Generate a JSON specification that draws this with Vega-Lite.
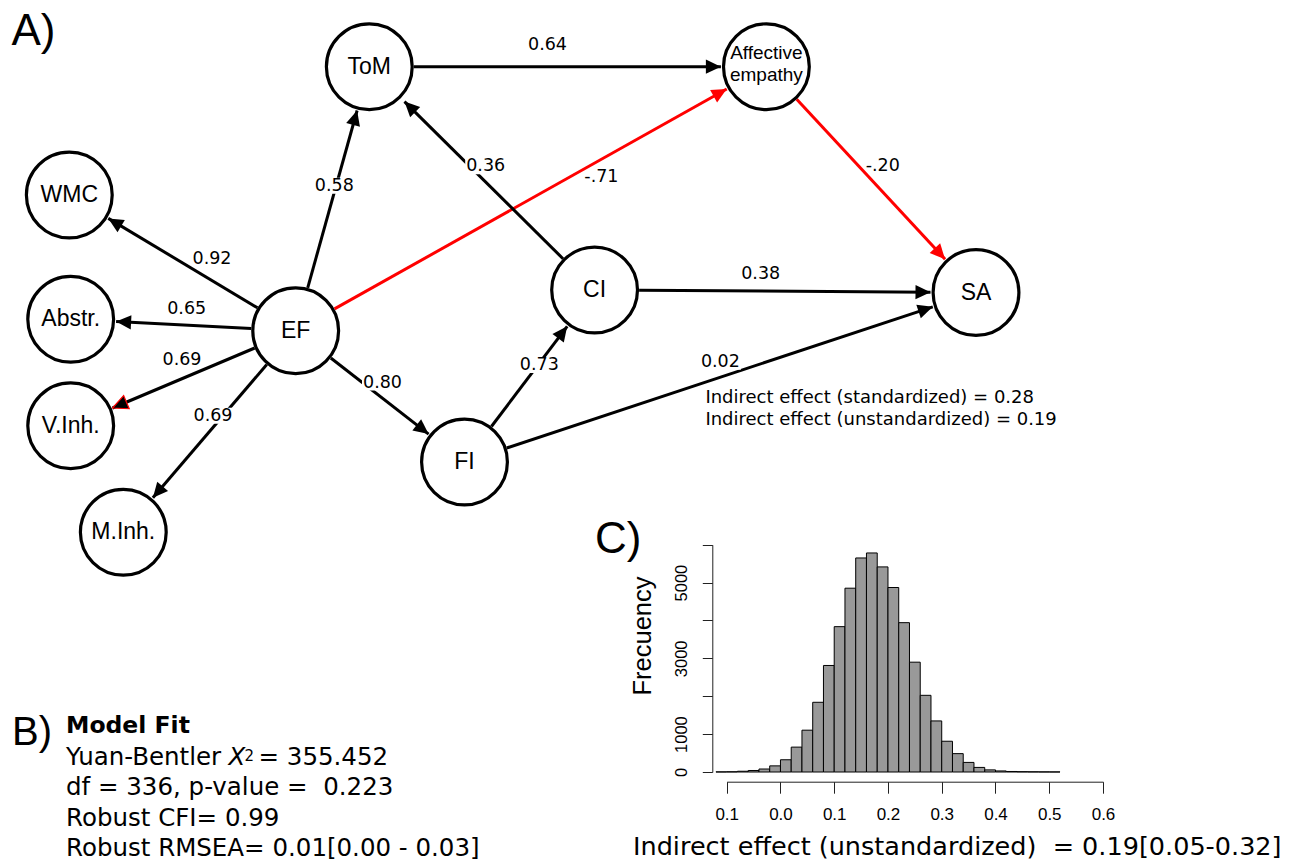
{
  "$schema": "https://vega.github.io/schema/vega-lite/v6.json",
  "width": 1309,
  "height": 862,
  "autosize": "none",
  "padding": 0,
  "background": "white",
  "config": {"view": {"stroke": null}},
  "datasets": {
    "nodes": [
      {"id": "ToM", "label": "ToM", "x": 369.3, "y": 66.7},
      {"id": "Affective empathy", "label": "Affective\nempathy", "x": 766.4, "y": 66.7},
      {"id": "WMC", "label": "WMC", "x": 69.3, "y": 195},
      {"id": "EF", "label": "EF", "x": 295.7, "y": 330.7},
      {"id": "Abstr.", "label": "Abstr.", "x": 70.7, "y": 319.3},
      {"id": "V.Inh.", "label": "V.Inh.", "x": 70.7, "y": 425.7},
      {"id": "M.Inh.", "label": "M.Inh.", "x": 123.3, "y": 532.3},
      {"id": "CI", "label": "CI", "x": 594.6, "y": 290},
      {"id": "SA", "label": "SA", "x": 976, "y": 292.5},
      {"id": "FI", "label": "FI", "x": 464.5, "y": 462}
    ],
    "edges": [
      {"from": "EF", "to": "ToM", "sign": "pos", "x1": 307.7, "y1": 287.8, "x2": 357.1, "y2": 110.5, "label": "0.58", "lx": 334.3, "ly": 185.8},
      {"from": "EF", "to": "WMC", "sign": "pos", "x1": 257.5, "y1": 307.8, "x2": 108.3, "y2": 218.4, "label": "0.92", "lx": 212, "ly": 259},
      {"from": "EF", "to": "Abstr.", "sign": "pos", "x1": 251.3, "y1": 328.5, "x2": 116.1, "y2": 321.6, "label": "0.65", "lx": 186.7, "ly": 308.8},
      {"from": "EF", "to": "V.Inh.", "sign": "pos", "x1": 254.7, "y1": 348.0, "x2": 112.6, "y2": 408.0, "label": "0.69", "lx": 182, "ly": 359.5},
      {"from": "EF", "to": "M.Inh.", "sign": "pos", "x1": 266.8, "y1": 364.5, "x2": 152.9, "y2": 497.7, "label": "0.69", "lx": 213, "ly": 415.8},
      {"from": "EF", "to": "FI", "sign": "pos", "x1": 330.8, "y1": 358.0, "x2": 428.6, "y2": 434.1, "label": "0.80", "lx": 382.5, "ly": 382.5},
      {"from": "EF", "to": "Affective empathy", "sign": "neg", "x1": 334.5, "y1": 308.9, "x2": 726.7, "y2": 89.0, "label": "-.71", "lx": 601.4, "ly": 176.7},
      {"from": "ToM", "to": "Affective empathy", "sign": "pos", "x1": 413.8, "y1": 66.7, "x2": 720.9, "y2": 66.7, "label": "0.64", "lx": 547.5, "ly": 45},
      {"from": "CI", "to": "ToM", "sign": "pos", "x1": 563.0, "y1": 258.7, "x2": 404.5, "y2": 101.6, "label": "0.36", "lx": 485.7, "ly": 166.3},
      {"from": "Affective empathy", "to": "SA", "sign": "neg", "x1": 796.7, "y1": 99.3, "x2": 945.1, "y2": 259.2, "label": "-.20", "lx": 882.8, "ly": 165.8},
      {"from": "CI", "to": "SA", "sign": "pos", "x1": 639.1, "y1": 290.3, "x2": 930.5, "y2": 292.2, "label": "0.38", "lx": 760.7, "ly": 273.7},
      {"from": "FI", "to": "CI", "sign": "pos", "x1": 491.4, "y1": 426.5, "x2": 567.2, "y2": 326.3, "label": "0.73", "lx": 539.3, "ly": 365},
      {"from": "FI", "to": "SA", "sign": "pos", "x1": 506.7, "y1": 448.0, "x2": 932.8, "y2": 306.8, "label": "0.02", "lx": 720.4, "ly": 361.7}
    ],
    "texts": [
      {"role": "panel", "text": "A)", "x": 11.5, "y": 45},
      {"role": "panel", "text": "B)", "x": 12, "y": 745},
      {"role": "panel", "text": "C)", "x": 595, "y": 553},
      {"role": "note", "text": "Indirect effect (standardized) = 0.28", "x": 705.4, "y": 403.3},
      {"role": "note", "text": "Indirect effect (unstandardized) = 0.19", "x": 705.4, "y": 425.3},
      {"role": "fitbold", "text": "Model Fit", "x": 66, "y": 733},
      {"role": "fit", "text": "Yuan-Bentler", "x": 66, "y": 765},
      {"role": "fitital", "text": "X", "x": 228.6, "y": 765},
      {"role": "fitsup", "text": "2", "x": 244.5, "y": 761},
      {"role": "fit", "text": "= 355.452", "x": 258.5, "y": 765},
      {"role": "fit", "text": "df = 336, p-value = \u00a00.223", "x": 66, "y": 795},
      {"role": "fit", "text": "Robust CFI= 0.99", "x": 66, "y": 826},
      {"role": "fit", "text": "Robust RMSEA= 0.01[0.00 - 0.03]", "x": 66, "y": 856},
      {"role": "histtitle", "text": "Indirect effect (unstandardized) \u00a0= 0.19[0.05-0.32]", "x": 633, "y": 855},
      {"role": "ylab", "text": "Frecuency", "x": 643.3, "y": 636}
    ],
    "hist": [
      {"b0": -0.12, "b1": -0.10, "count": 3},
      {"b0": -0.10, "b1": -0.08, "count": 6},
      {"b0": -0.08, "b1": -0.06, "count": 20},
      {"b0": -0.06, "b1": -0.04, "count": 40},
      {"b0": -0.04, "b1": -0.02, "count": 79},
      {"b0": -0.02, "b1": 0.00, "count": 162},
      {"b0": 0.00, "b1": 0.02, "count": 323},
      {"b0": 0.02, "b1": 0.04, "count": 657},
      {"b0": 0.04, "b1": 0.06, "count": 1104},
      {"b0": 0.06, "b1": 0.08, "count": 1840},
      {"b0": 0.08, "b1": 0.10, "count": 2812},
      {"b0": 0.10, "b1": 0.12, "count": 3837},
      {"b0": 0.12, "b1": 0.14, "count": 4852},
      {"b0": 0.14, "b1": 0.16, "count": 5650},
      {"b0": 0.16, "b1": 0.18, "count": 5782},
      {"b0": 0.18, "b1": 0.20, "count": 5414},
      {"b0": 0.20, "b1": 0.22, "count": 4870},
      {"b0": 0.22, "b1": 0.24, "count": 3942},
      {"b0": 0.24, "b1": 0.26, "count": 2899},
      {"b0": 0.26, "b1": 0.28, "count": 2024},
      {"b0": 0.28, "b1": 0.30, "count": 1348},
      {"b0": 0.30, "b1": 0.32, "count": 812},
      {"b0": 0.32, "b1": 0.34, "count": 485},
      {"b0": 0.34, "b1": 0.36, "count": 253},
      {"b0": 0.36, "b1": 0.38, "count": 121},
      {"b0": 0.38, "b1": 0.40, "count": 56},
      {"b0": 0.40, "b1": 0.42, "count": 28},
      {"b0": 0.42, "b1": 0.44, "count": 14},
      {"b0": 0.44, "b1": 0.46, "count": 8},
      {"b0": 0.46, "b1": 0.48, "count": 5},
      {"b0": 0.48, "b1": 0.50, "count": 3},
      {"b0": 0.50, "b1": 0.52, "count": 2}
    ]
  },
  "layer": [
    {
      "layer": [
        {
          "data": {"name": "edges"},
          "mark": {"type": "rule", "strokeWidth": 3, "strokeCap": "butt"},
          "encoding": {
            "x": {"field": "x1", "type": "quantitative", "scale": {"domain": [0, 1309], "range": [0, 1309], "nice": false, "zero": false}, "axis": null},
            "y": {"field": "y1", "type": "quantitative", "scale": {"domain": [0, 862], "range": [0, 862], "nice": false, "zero": false}, "axis": null},
            "x2": {"field": "x2"},
            "y2": {"field": "y2"},
            "color": {"field": "sign", "type": "nominal", "scale": {"domain": ["pos", "neg"], "range": ["#000000", "#ff0000"]}, "legend": null}
          }
        },
        {
          "data": {"name": "edges"},
          "transform": [
            {"calculate": "atan2(datum.x2 - datum.x1, datum.y1 - datum.y2) * 180 / PI", "as": "ang"}
          ],
          "mark": {"type": "point", "shape": "M0,0L0.95,2L-0.95,2Z", "size": 225, "filled": true, "opacity": 1, "strokeWidth": 1.2},
          "encoding": {
            "x": {"field": "x2", "type": "quantitative", "scale": {"domain": [0, 1309], "range": [0, 1309], "nice": false, "zero": false}, "axis": null},
            "y": {"field": "y2", "type": "quantitative", "scale": {"domain": [0, 862], "range": [0, 862], "nice": false, "zero": false}, "axis": null},
            "angle": {"field": "ang", "type": "quantitative", "scale": null},
            "color": {"field": "sign", "type": "nominal", "scale": {"domain": ["pos", "neg"], "range": ["#000000", "#ff0000"]}, "legend": null},
            "stroke": {"condition": {"test": "datum.to === 'V.Inh.'", "value": "#ff0000"}, "value": null}
          }
        },
        {
          "data": {"name": "nodes"},
          "mark": {"type": "point", "shape": "circle", "size": 7362, "filled": true, "fill": "white", "stroke": "black", "strokeWidth": 3.2, "opacity": 1},
          "encoding": {
            "x": {"field": "x", "type": "quantitative", "scale": {"domain": [0, 1309], "range": [0, 1309], "nice": false, "zero": false}, "axis": null},
            "y": {"field": "y", "type": "quantitative", "scale": {"domain": [0, 862], "range": [0, 862], "nice": false, "zero": false}, "axis": null}
          }
        },
        {
          "data": {"name": "nodes"},
          "transform": [{"filter": "datum.id !== 'Affective empathy'"}],
          "mark": {"type": "text", "font": "Liberation Sans", "fontSize": 23, "align": "center", "baseline": "middle", "color": "black"},
          "encoding": {
            "x": {"field": "x", "type": "quantitative", "scale": {"domain": [0, 1309], "range": [0, 1309], "nice": false, "zero": false}, "axis": null},
            "y": {"field": "y", "type": "quantitative", "scale": {"domain": [0, 862], "range": [0, 862], "nice": false, "zero": false}, "axis": null},
            "text": {"field": "label"}
          }
        },
        {
          "data": {"name": "nodes"},
          "transform": [{"filter": "datum.id === 'Affective empathy'"}],
          "mark": {"type": "text", "font": "Liberation Sans", "fontSize": 19, "align": "center", "baseline": "middle", "lineBreak": "\n", "lineHeight": 22, "dy": -13.5, "color": "black"},
          "encoding": {
            "x": {"field": "x", "type": "quantitative", "scale": {"domain": [0, 1309], "range": [0, 1309], "nice": false, "zero": false}, "axis": null},
            "y": {"field": "y", "type": "quantitative", "scale": {"domain": [0, 862], "range": [0, 862], "nice": false, "zero": false}, "axis": null},
            "text": {"field": "label"}
          }
        },
        {
          "data": {"name": "edges"},
          "transform": [
            {"filter": "indexof(['EF-ToM','CI-ToM','EF-FI','EF-M.Inh.','FI-CI','FI-SA'], datum.from + '-' + datum.to) >= 0"}
          ],
          "mark": {"type": "point", "shape": "M-1,-0.39H1V0.39H-1Z", "size": 1681, "filled": true, "fill": "white", "strokeWidth": 0, "opacity": 1},
          "encoding": {
            "x": {"field": "lx", "type": "quantitative", "scale": {"domain": [0, 1309], "range": [0, 1309], "nice": false, "zero": false}, "axis": null},
            "y": {"field": "ly", "type": "quantitative", "scale": {"domain": [0, 862], "range": [0, 862], "nice": false, "zero": false}, "axis": null}
          }
        },
        {
          "data": {"name": "edges"},
          "mark": {"type": "text", "font": "DejaVu Sans", "fontSize": 17.5, "align": "center", "baseline": "middle", "color": "black"},
          "encoding": {
            "x": {"field": "lx", "type": "quantitative", "scale": {"domain": [0, 1309], "range": [0, 1309], "nice": false, "zero": false}, "axis": null},
            "y": {"field": "ly", "type": "quantitative", "scale": {"domain": [0, 862], "range": [0, 862], "nice": false, "zero": false}, "axis": null},
            "text": {"field": "label"}
          }
        },
        {
          "data": {"name": "texts"},
          "transform": [{"filter": "datum.role === 'panel'"}],
          "mark": {"type": "text", "font": "Liberation Sans", "align": "left", "baseline": "alphabetic", "color": "black"},
          "encoding": {
            "x": {"field": "x", "type": "quantitative", "scale": {"domain": [0, 1309], "range": [0, 1309], "nice": false, "zero": false}, "axis": null},
            "y": {"field": "y", "type": "quantitative", "scale": {"domain": [0, 862], "range": [0, 862], "nice": false, "zero": false}, "axis": null},
            "text": {"field": "text"},
            "size": {"condition": {"test": "datum.text === 'B)'", "value": 40}, "value": 44}
          }
        },
        {
          "data": {"name": "texts"},
          "transform": [{"filter": "datum.role === 'note'"}],
          "mark": {"type": "text", "font": "DejaVu Sans", "fontSize": 18, "align": "left", "baseline": "alphabetic", "color": "black"},
          "encoding": {
            "x": {"field": "x", "type": "quantitative", "scale": {"domain": [0, 1309], "range": [0, 1309], "nice": false, "zero": false}, "axis": null},
            "y": {"field": "y", "type": "quantitative", "scale": {"domain": [0, 862], "range": [0, 862], "nice": false, "zero": false}, "axis": null},
            "text": {"field": "text"}
          }
        },
        {
          "data": {"name": "texts"},
          "transform": [{"filter": "datum.role === 'fitbold'"}],
          "mark": {"type": "text", "font": "DejaVu Sans", "fontSize": 23.5, "fontWeight": "bold", "align": "left", "baseline": "alphabetic", "color": "black"},
          "encoding": {
            "x": {"field": "x", "type": "quantitative", "scale": {"domain": [0, 1309], "range": [0, 1309], "nice": false, "zero": false}, "axis": null},
            "y": {"field": "y", "type": "quantitative", "scale": {"domain": [0, 862], "range": [0, 862], "nice": false, "zero": false}, "axis": null},
            "text": {"field": "text"}
          }
        },
        {
          "data": {"name": "texts"},
          "transform": [{"filter": "datum.role === 'fit'"}],
          "mark": {"type": "text", "font": "DejaVu Sans", "fontSize": 24.5, "align": "left", "baseline": "alphabetic", "color": "black"},
          "encoding": {
            "x": {"field": "x", "type": "quantitative", "scale": {"domain": [0, 1309], "range": [0, 1309], "nice": false, "zero": false}, "axis": null},
            "y": {"field": "y", "type": "quantitative", "scale": {"domain": [0, 862], "range": [0, 862], "nice": false, "zero": false}, "axis": null},
            "text": {"field": "text"}
          }
        },
        {
          "data": {"name": "texts"},
          "transform": [{"filter": "datum.role === 'fitital'"}],
          "mark": {"type": "text", "font": "DejaVu Sans", "fontSize": 24.5, "fontStyle": "italic", "align": "left", "baseline": "alphabetic", "color": "black"},
          "encoding": {
            "x": {"field": "x", "type": "quantitative", "scale": {"domain": [0, 1309], "range": [0, 1309], "nice": false, "zero": false}, "axis": null},
            "y": {"field": "y", "type": "quantitative", "scale": {"domain": [0, 862], "range": [0, 862], "nice": false, "zero": false}, "axis": null},
            "text": {"field": "text"}
          }
        },
        {
          "data": {"name": "texts"},
          "transform": [{"filter": "datum.role === 'fitsup'"}],
          "mark": {"type": "text", "font": "DejaVu Sans", "fontSize": 15, "align": "left", "baseline": "alphabetic", "color": "black"},
          "encoding": {
            "x": {"field": "x", "type": "quantitative", "scale": {"domain": [0, 1309], "range": [0, 1309], "nice": false, "zero": false}, "axis": null},
            "y": {"field": "y", "type": "quantitative", "scale": {"domain": [0, 862], "range": [0, 862], "nice": false, "zero": false}, "axis": null},
            "text": {"field": "text"}
          }
        },
        {
          "data": {"name": "texts"},
          "transform": [{"filter": "datum.role === 'histtitle'"}],
          "mark": {"type": "text", "font": "DejaVu Sans", "fontSize": 25.5, "align": "left", "baseline": "alphabetic", "color": "black"},
          "encoding": {
            "x": {"field": "x", "type": "quantitative", "scale": {"domain": [0, 1309], "range": [0, 1309], "nice": false, "zero": false}, "axis": null},
            "y": {"field": "y", "type": "quantitative", "scale": {"domain": [0, 862], "range": [0, 862], "nice": false, "zero": false}, "axis": null},
            "text": {"field": "text"}
          }
        },
        {
          "data": {"name": "texts"},
          "transform": [{"filter": "datum.role === 'ylab'"}],
          "mark": {"type": "text", "font": "Liberation Sans", "fontSize": 25.5, "angle": 270, "align": "center", "baseline": "middle", "color": "black"},
          "encoding": {
            "x": {"field": "x", "type": "quantitative", "scale": {"domain": [0, 1309], "range": [0, 1309], "nice": false, "zero": false}, "axis": null},
            "y": {"field": "y", "type": "quantitative", "scale": {"domain": [0, 862], "range": [0, 862], "nice": false, "zero": false}, "axis": null},
            "text": {"field": "text"}
          }
        }
      ]
    },
    {
      "data": {"name": "hist"},
      "mark": {"type": "rect", "fill": "#999999", "stroke": "#000000", "strokeWidth": 1},
      "encoding": {
        "x": {
          "field": "b0", "type": "quantitative",
          "scale": {"domain": [-0.1, 0.6], "range": [726.7, 1103], "nice": false, "zero": false},
          "axis": {
            "orient": "bottom", "offset": -80.3, "values": [-0.1, 0, 0.1, 0.2, 0.3, 0.4, 0.5, 0.6],
            "labelExpr": "format(abs(datum.value), '.1f')",
            "title": null, "grid": false, "domainColor": "#222222", "tickColor": "#222222",
            "domainWidth": 1, "tickWidth": 1, "tickSize": 11.5,
            "labelFont": "Liberation Sans", "labelFontSize": 17, "labelColor": "black",
            "labelBaseline": "middle", "labelAlign": "center", "labelPadding": 21,
            "labelFlush": false, "labelOverlap": false
          }
        },
        "x2": {"field": "b1"},
        "y": {
          "field": "count", "type": "quantitative",
          "scale": {"domain": [0, 6000], "range": [772, 544.7], "nice": false, "zero": false},
          "axis": {
            "orient": "left", "offset": -712.3, "values": [0, 1000, 2000, 3000, 4000, 5000, 6000],
            "labelExpr": "(datum.value == 2000 || datum.value == 4000 || datum.value == 6000) ? '' : datum.label",
            "format": "d",
            "title": null, "grid": false, "domainColor": "#222222", "tickColor": "#222222",
            "domainWidth": 1, "tickWidth": 1, "tickSize": 10,
            "labelFont": "Liberation Sans", "labelFontSize": 16.5, "labelColor": "black",
            "labelAngle": 270, "labelAlign": "center", "labelBaseline": "middle", "labelPadding": 20.5,
            "labelFlush": false, "labelOverlap": false
          }
        },
        "y2": {"datum": 0}
      }
    }
  ],
  "resolve": {"scale": {"x": "independent", "y": "independent"}}
}
